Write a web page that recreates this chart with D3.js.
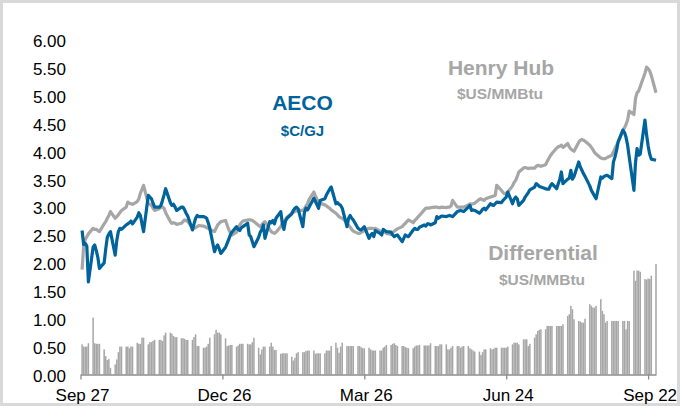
<!DOCTYPE html>
<html>
<head>
<meta charset="utf-8">
<script src="https://cdn.jsdelivr.net/npm/d3@7"></script>
<style>
	body { margin: 0; background: #fff; }
	svg { display: block; font-family: "Liberation Sans", Arial, sans-serif; }
</style>
</head>
<body>
<script>

// daily prices, one row per trading week (mon..fri), sep 28 2020 to sep 27 2021
var aeco = [
	2.58, 2.33, 2.35, 2.30, 1.66,  2.28, 2.32, 2.22, 2.10, 1.90,  2.00, 2.25, 2.46, 2.52, 2.56,
	2.14, 2.40, 2.56, 2.62, 2.60,  2.68, 2.70, 2.72, 2.75, 2.70,  2.82, 2.90, 2.85, 2.70, 2.56,
	3.21, 3.18, 3.15, 3.07, 3.00,  3.00, 3.03, 3.12, 3.22, 3.33,  3.08, 3.03, 3.05, 3.00, 2.94,
	3.00, 3.00, 2.95, 2.89, 2.84,  2.59, 2.70, 2.80, 2.85, 2.83,  2.83, 2.82, 2.80, 2.72, 2.62,
	2.20, 2.28, 2.32, 2.25, 2.17,  2.28, 2.35, 2.42, 2.50, 2.55,  2.65, 2.60, 2.58, 2.63, 2.65,
	2.71, 2.50, 2.47, 2.38, 2.29,  2.46, 2.55, 2.60, 2.68, 2.44,  2.74, 2.72, 2.76, 2.70, 2.80,
	2.92, 2.71, 2.60, 2.75, 2.80,  2.88, 2.94, 2.98, 3.00, 2.97,  2.65, 2.90, 2.98, 2.95, 3.00,
	3.16, 3.10, 3.04, 2.98, 3.12,  3.15, 3.22, 3.27, 3.32, 3.36,  3.06, 3.08, 3.05, 3.03, 2.98,
	2.65, 2.80, 2.85, 2.80, 2.77,  2.62, 2.60, 2.59, 2.62, 2.65,  2.44, 2.50, 2.53, 2.47, 2.58,
	2.53, 2.50, 2.60, 2.58, 2.56,  2.55, 2.50, 2.47, 2.49, 2.50,  2.38, 2.44, 2.50, 2.48, 2.47,
	2.59, 2.62, 2.60, 2.60, 2.64,  2.68, 2.66, 2.70, 2.70, 2.68,  2.72, 2.83, 2.80, 2.82, 2.84,
	2.83, 2.84, 2.85, 2.84, 2.83,  2.92, 2.93, 2.94, 2.93, 2.92,  3.00, 3.03, 2.94, 2.95, 2.94,
	2.89, 2.92, 2.96, 2.98, 2.95,  3.06, 3.04, 3.03, 3.06, 3.09,  3.08, 3.12, 3.15, 3.18, 3.27,
	3.06, 3.14, 3.18, 3.15, 3.03,  3.12, 3.18, 3.22, 3.26, 3.31,  3.36, 3.42, 3.40, 3.37, 3.36,
	3.33, 3.32, 3.32, 3.38, 3.42,  3.33, 3.42, 3.50, 3.63, 3.42,  3.50, 3.52, 3.66, 3.50, 3.55,
	3.81, 3.72, 3.66, 3.60, 3.55,  3.38, 3.30, 3.25, 3.20, 3.15,  3.54, 3.52, 3.55, 3.56, 3.57,
	3.51, 3.81, 3.90, 4.02, 4.17,  4.38, 4.34, 4.25, 4.11, 3.90,  3.30, 3.80, 4.05, 3.93, 3.95,
	4.56, 4.30, 4.10, 3.95, 3.86,  3.84
];

var henryHub = [
	1.88, 2.30, 2.42, 2.47, 2.52,  2.62, 2.60, 2.60, 2.58, 2.56,  2.70, 2.74, 2.80, 2.85, 2.92,
	2.80, 2.83, 2.86, 2.90, 2.94,  3.00, 3.09, 3.07, 3.06, 3.05,  3.10, 3.15, 3.25, 3.32, 3.39,
	3.06, 3.05, 3.03, 2.98, 2.94,  2.97, 3.00, 3.00, 2.98, 2.90,  2.74, 2.71, 2.72, 2.71, 2.69,
	2.71, 2.74, 2.77, 2.76, 2.74,  2.63, 2.62, 2.63, 2.65, 2.67,  2.66, 2.65, 2.63, 2.62, 2.60,
	2.56, 2.62, 2.68, 2.71, 2.74,  2.76, 2.68, 2.60, 2.54, 2.50,  2.55, 2.62, 2.68, 2.72, 2.75,
	2.77, 2.77, 2.77, 2.76, 2.74,  2.67, 2.65, 2.68, 2.72, 2.74,  2.60, 2.56, 2.54, 2.53, 2.55,
	2.65, 2.70, 2.74, 2.78, 2.82,  2.89, 2.91, 2.92, 2.93, 2.94,  2.94, 2.97, 3.02, 3.06, 3.14,
	3.27, 3.20, 3.14, 3.09, 3.07,  3.04, 3.02, 3.00, 2.98, 2.95,  2.89, 2.86, 2.83, 2.81, 2.80,
	2.73, 2.68, 2.64, 2.60, 2.57,  2.53, 2.53, 2.55, 2.56, 2.58,  2.62, 2.62, 2.62, 2.61, 2.62,
	2.57, 2.54, 2.55, 2.56, 2.53,  2.51, 2.54, 2.57, 2.59, 2.61,  2.65, 2.68, 2.71, 2.74, 2.77,
	2.72, 2.76, 2.79, 2.82, 2.85,  2.95, 2.98, 2.98, 2.98, 2.99,  3.00, 3.00, 2.99, 2.99, 3.00,
	2.99, 3.00, 3.00, 3.02, 3.12,  3.00, 3.00, 3.00, 3.00, 3.00,  3.04, 3.06, 3.05, 3.06, 3.07,
	3.14, 3.15, 3.13, 3.12, 3.15,  3.18, 3.19, 3.20, 3.21, 3.39,  3.30, 3.26, 3.24, 3.25, 3.27,
	3.38, 3.44, 3.48, 3.55, 3.63,  3.70, 3.71, 3.70, 3.69, 3.70,  3.70, 3.73, 3.75, 3.74, 3.73,
	3.76, 3.82, 3.87, 3.92, 3.96,  4.06, 4.08, 4.09, 4.11, 4.07,  4.14, 4.08, 4.04, 4.02, 4.00,
	4.16, 4.20, 4.21, 4.20, 4.18,  4.11, 4.07, 4.03, 3.98, 3.95,  3.88, 3.87, 3.87, 3.87, 3.89,
	3.93, 3.99, 4.05, 4.11, 4.17,  4.37, 4.42, 4.48, 4.56, 4.72,  4.66, 4.95, 5.05, 5.08, 5.16,
	5.40, 5.51, 5.48, 5.44, 5.36,  5.05
];

var differential = [
	0.54, 0.50, 0.50, 0.50, 0.56,  1.02, 0.56, 0.55, 0.55, 0.55,  0.45, 0.33, 0.26, 0.28, 0.12,
	0.18, 0.27, 0.40, 0.50, 0.50,  0.50, 0.50, 0.47, 0.50, 0.50,  0.57, 0.55, 0.55, 0.66, 0.66,
	0.54, 0.58, 0.58, 0.60, 0.62,  0.62, 0.62, 0.60, 0.70, 0.75,  0.75, 0.73, 0.69, 0.67, 0.67,
	0.65, 0.65, 0.64, 0.62, 0.62,  0.62, 0.67, 0.72, 0.51, 0.51,  0.48, 0.48, 0.50, 0.55, 0.66,
	0.72, 0.80, 0.75, 0.75, 0.72,  0.65, 0.51, 0.52, 0.53, 0.53,  0.50, 0.52, 0.55, 0.55, 0.55,
	0.55, 0.54, 0.54, 0.58, 0.66,  0.48, 0.36, 0.45, 0.50, 0.50,  0.50, 0.57, 0.50, 0.44, 0.44,
	0.37, 0.38, 0.38, 0.38, 0.38,  0.32, 0.25, 0.30, 0.38, 0.40,  0.40, 0.40, 0.42, 0.43, 0.43,
	0.43, 0.37, 0.38, 0.38, 0.38,  0.38, 0.43, 0.43, 0.43, 0.51,  0.57, 0.48, 0.39, 0.50, 0.57,
	0.51, 0.51, 0.51, 0.51, 0.51,  0.51, 0.51, 0.49, 0.47, 0.47,  0.48, 0.45, 0.43, 0.43, 0.43,
	0.43, 0.43, 0.48, 0.50, 0.53,  0.53, 0.55, 0.56, 0.53, 0.51,  0.51, 0.51, 0.49, 0.48, 0.47,
	0.47, 0.50, 0.52, 0.52, 0.53,  0.52, 0.52, 0.52, 0.52, 0.56,  0.51, 0.51, 0.51, 0.54, 0.54,
	0.54, 0.45, 0.45, 0.48, 0.51,  0.51, 0.51, 0.48, 0.50, 0.51,  0.51, 0.47, 0.45, 0.43, 0.41,
	0.41, 0.35, 0.40, 0.45, 0.45,  0.47, 0.45, 0.46, 0.48, 0.48,  0.48, 0.48, 0.48, 0.48, 0.50,
	0.54, 0.57, 0.57, 0.57, 0.54,  0.63, 0.63, 0.63, 0.51, 0.55,  0.66, 0.72, 0.78, 0.80, 0.81,
	0.81, 0.87, 0.87, 0.87, 0.87,  0.87, 0.87, 0.87, 0.87, 0.90,  1.05, 1.08, 1.23, 1.17, 0.99,
	0.96, 0.95, 0.93, 0.93, 1.00,  1.26, 1.23, 1.20, 1.20, 1.23,  1.35, 1.14, 1.08, 0.93, 0.96,
	0.96, 0.96, 0.96, 0.96, 0.96,  0.96, 0.96, 0.81, 0.96, 0.96,  1.86, 1.68, 1.86, 1.86, 1.84,
	1.71, 1.70, 1.72, 1.71, 1.77,  1.98
];

var yTicks = [0, 0.5, 1, 1.5, 2, 2.5, 3, 3.5, 4, 4.5, 5, 5.5, 6];
var xTickDates = ['2020-09-27', '2020-12-26', '2021-03-26', '2021-06-24', '2021-09-22'];

// trading days (weekdays) the values above belong to
var parseDate = d3.timeParse('%Y-%m-%d');
var days = d3.timeDay.range(parseDate('2020-09-28'), parseDate('2021-09-28'))
	.filter(function(d) { return d.getDay() !== 0 && d.getDay() !== 6; });

var width = 680,
	height = 406;

var blue = '#00639b',
	grey = '#a6a6a6';

var svg = d3.select('body')
	.append('svg')
	.attr('width', width)
	.attr('height', height);

// light frame round the picture
svg.append('rect')
	.attr('x', 1.5)
	.attr('y', 1.5)
	.attr('width', width - 3)
	.attr('height', height - 3)
	.attr('fill', '#fff')
	.attr('stroke', '#d9d9d9')
	.attr('stroke-width', 3);

var x = d3.scaleTime()
	.domain([parseDate('2020-09-27'), parseDate('2021-09-27')])
	.range([80.5, 656]);

var y = d3.scaleLinear()
	.domain([0, 6])
	.range([374.5, 39.7]);

// differential bars
svg.append('g')
	.selectAll('rect')
	.data(differential)
	.enter().append('rect')
	.attr('x', function(d, i) { return x(days[i]) - 0.75; })
	.attr('y', function(d) { return y(d); })
	.attr('width', 1.5)
	.attr('height', function(d) { return y(0) - y(d); })
	.attr('fill', grey);

var line = d3.line()
	.x(function(d, i) { return x(days[i]); })
	.y(function(d) { return y(d); });

svg.append('path')
	.datum(henryHub)
	.attr('d', line)
	.attr('fill', 'none')
	.attr('stroke', grey)
	.attr('stroke-width', 3.2)
	.attr('stroke-linejoin', 'round');

svg.append('path')
	.datum(aeco)
	.attr('d', line)
	.attr('fill', 'none')
	.attr('stroke', blue)
	.attr('stroke-width', 3.2)
	.attr('stroke-linejoin', 'round');

// value axis, labels only
var yAxis = svg.append('g')
	.attr('transform', 'translate(70,0)')
	.call(d3.axisLeft(y)
		.tickValues(yTicks)
		.tickFormat(d3.format('.2f'))
		.tickSize(0)
		.tickPadding(4));

yAxis.select('.domain').remove();
yAxis.selectAll('text')
	.attr('font-size', 17)
	.attr('font-family', '"Liberation Sans", Arial, sans-serif')
	.attr('fill', '#000')
	.attr('dy', '0.40em');

// date axis
var xAxis = svg.append('g')
	.attr('transform', 'translate(0,' + y(0) + ')')
	.call(d3.axisBottom(x)
		.tickValues(xTickDates.map(parseDate))
		.tickFormat(d3.timeFormat('%b %d'))
		.tickSize(5)
		.tickSizeOuter(0));

xAxis.select('.domain')
	.attr('stroke', '#8c8c8c')
	.attr('stroke-width', 1.3);
xAxis.selectAll('.tick line')
	.attr('stroke', '#8c8c8c')
	.attr('stroke-width', 1.3);
xAxis.selectAll('text')
	.attr('font-size', 17)
	.attr('font-family', '"Liberation Sans", Arial, sans-serif')
	.attr('fill', '#000')
	.attr('x', 1.5)
	.attr('y', 26)
	.attr('dy', 0);

// series labels
var labels = [
	{ text: 'AECO', x: 302.5, y: 110, size: 21, color: blue },
	{ text: '$C/GJ', x: 302.5, y: 135.5, size: 15, color: blue },
	{ text: 'Henry Hub', x: 501, y: 74.5, size: 21, color: grey },
	{ text: '$US/MMBtu', x: 500, y: 98.5, size: 15.5, color: grey },
	{ text: 'Differential', x: 543, y: 260, size: 21, color: grey },
	{ text: '$US/MMBtu', x: 542, y: 285, size: 15.5, color: grey }
];

svg.append('g')
	.selectAll('text')
	.data(labels)
	.enter().append('text')
	.attr('x', function(d) { return d.x; })
	.attr('y', function(d) { return d.y; })
	.attr('text-anchor', 'middle')
	.attr('font-weight', 'bold')
	.attr('font-size', function(d) { return d.size; })
	.attr('fill', function(d) { return d.color; })
	.text(function(d) { return d.text; });

</script>
</body>
</html>
